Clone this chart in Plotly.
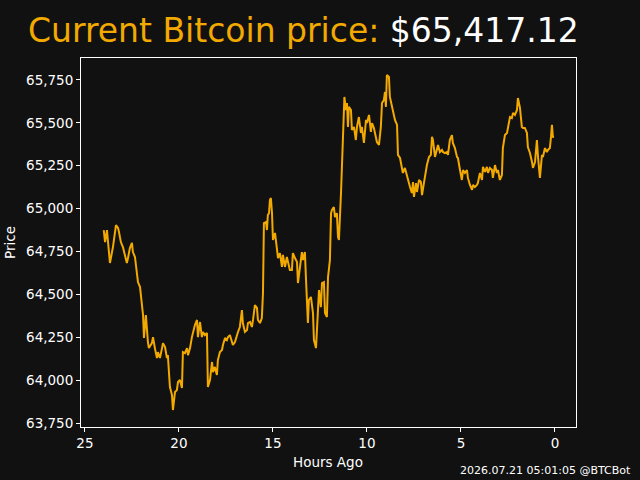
import plotly.graph_objects as go

hours_ago = [
    24.00, 23.93, 23.83, 23.78, 23.67, 23.56, 23.51, 23.35, 23.24, 23.19,
    23.09, 22.98, 22.87, 22.77, 22.71, 22.61, 22.50, 22.45, 22.34, 22.23,
    22.18, 22.07, 21.97, 21.91, 21.86, 21.76, 21.65, 21.60, 21.44, 21.38,
    21.28, 21.17, 21.12, 21.01, 20.90, 20.85, 20.74, 20.64, 20.59, 20.48,
    20.37, 20.32, 20.21, 20.11, 20.05, 19.95, 19.84, 19.79, 19.68, 19.57,
    19.52, 19.41, 19.31, 19.26, 19.15, 19.04, 18.99, 18.88, 18.78, 18.72,
    18.62, 18.51, 18.46, 18.35, 18.24, 18.19, 18.09, 17.98, 17.93, 17.82,
    17.71, 17.66, 17.55, 17.45, 17.39, 17.29, 17.18, 17.13, 17.02, 16.91,
    16.86, 16.76, 16.65, 16.60, 16.49, 16.38, 16.33, 16.22, 16.12, 16.06,
    15.96, 15.85, 15.80, 15.69, 15.59, 15.53, 15.51, 15.48, 15.37, 15.32,
    15.27, 15.21, 15.16, 15.11, 15.05, 15.00, 14.89, 14.79, 14.73, 14.63,
    14.52, 14.47, 14.36, 14.26, 14.20, 14.10, 13.99, 13.94, 13.83, 13.72,
    13.67, 13.56, 13.46, 13.40, 13.30, 13.24, 13.14, 13.09, 12.98, 12.87,
    12.82, 12.71, 12.61, 12.55, 12.45, 12.39, 12.29, 12.23, 12.13, 12.07,
    11.97, 11.91, 11.86, 11.76, 11.70, 11.60, 11.54, 11.49, 11.38, 11.33,
    11.28, 11.22, 11.20, 11.12, 11.06, 11.01, 10.96, 10.85, 10.80, 10.69,
    10.59, 10.53, 10.43, 10.32, 10.27, 10.16, 10.05, 10.00, 9.89, 9.79,
    9.73, 9.63, 9.52, 9.47, 9.36, 9.26, 9.20, 9.10, 9.04, 8.99,
    8.94, 8.83, 8.78, 8.67, 8.62, 8.51, 8.40, 8.35, 8.24, 8.14,
    8.09, 7.98, 7.87, 7.82, 7.71, 7.61, 7.55, 7.50, 7.39, 7.34,
    7.23, 7.13, 7.07, 6.97, 6.86, 6.81, 6.70, 6.60, 6.54, 6.49,
    6.38, 6.28, 6.22, 6.12, 6.01, 5.96, 5.85, 5.74, 5.69, 5.59,
    5.48, 5.43, 5.32, 5.21, 5.16, 5.05, 4.95, 4.89, 4.79, 4.68,
    4.63, 4.52, 4.41, 4.36, 4.26, 4.15, 4.10, 3.99, 3.88, 3.83,
    3.72, 3.62, 3.56, 3.46, 3.35, 3.30, 3.19, 3.09, 3.03, 2.93,
    2.82, 2.77, 2.66, 2.55, 2.50, 2.39, 2.29, 2.23, 2.13, 2.02,
    1.97, 1.86, 1.76, 1.70, 1.60, 1.49, 1.44, 1.33, 1.22, 1.17,
    1.06, 0.96, 0.90, 0.80, 0.69, 0.64, 0.53, 0.43, 0.37, 0.27,
    0.21, 0.16, 0.11, 0.05,
]

price_usd = [
    64875, 64805, 64875, 64817, 64683, 64747, 64776, 64904, 64887, 64864,
    64805, 64776, 64730, 64683, 64712, 64770, 64800, 64747, 64718, 64630,
    64572, 64543, 64456, 64380, 64246, 64380, 64222, 64187, 64216, 64251,
    64187, 64129, 64164, 64129, 64187, 64216, 64193, 64129, 64146, 63960,
    63913, 63826, 63931, 63942, 63989, 64001, 63954, 64164, 64158, 64187,
    64146, 64187, 64251, 64275, 64321, 64351, 64251, 64339, 64251, 64281,
    64263, 64275, 63960, 64001, 64106, 64047, 64077, 64030, 64117, 64164,
    64176, 64205, 64246, 64234, 64251, 64263, 64222, 64205, 64222, 64275,
    64281, 64310, 64409, 64333, 64281, 64292, 64333, 64339, 64310, 64351,
    64438, 64421, 64351, 64333, 64362, 64508, 64776, 64916, 64922, 64875,
    64963, 64974, 65050, 65062, 64974, 64817, 64858, 64741, 64712, 64741,
    64660, 64730, 64660, 64718, 64689, 64642, 64642, 64741, 64712, 64689,
    64566, 64660, 64747, 64700, 64747, 64584, 64333, 64467, 64485, 64391,
    64234, 64187, 64467, 64525, 64426, 64566, 64572, 64391, 64368, 64601,
    64700, 64974, 64992, 65009, 64951, 64974, 64835, 64817, 65091, 65284,
    65383, 65558, 65651, 65575, 65616, 65476, 65593, 65575, 65458, 65476,
    65400, 65476, 65534, 65441, 65476, 65383, 65517, 65499, 65546, 65447,
    65499, 65470, 65418, 65388, 65371, 65476, 65616, 65633, 65680, 65593,
    65779, 65767, 65651, 65593, 65587, 65517, 65488, 65313, 65295, 65225,
    65208, 65237, 65184, 65167, 65126, 65091, 65155, 65068, 65149, 65097,
    65167, 65155, 65079, 65149, 65225, 65254, 65301, 65313, 65418, 65400,
    65301, 65342, 65371, 65330, 65342, 65330, 65324, 65330, 65313, 65400,
    65429, 65383, 65353, 65301, 65295, 65225, 65167, 65225, 65208, 65225,
    65179, 65138, 65109, 65138, 65126, 65138, 65149, 65208, 65167, 65243,
    65214, 65243, 65208, 65237, 65225, 65179, 65254, 65208, 65225, 65167,
    65196, 65353, 65429, 65441, 65476, 65534, 65528, 65558, 65546, 65575,
    65645, 65587, 65476, 65470, 65470, 65441, 65359, 65324, 65272, 65237,
    65272, 65400, 65301, 65179, 65313, 65301, 65353, 65330, 65342, 65353,
    65418, 65488, 65418, 65417.12,
]

x_ticks = [0, 5, 10, 15, 20, 25]
y_ticks = [63750, 64000, 64250, 64500, 64750, 65000, 65250, 65500, 65750]

title_label = "Current Bitcoin price: "
current_price = "$65,417.12"
footer_text = "2026.07.21 05:01:05 @BTCBot"

BG = "#111111"
ORANGE = "#F2A900"
FONT = "DejaVu Sans"

fig = go.Figure()
fig.add_trace(go.Scatter(
    x=hours_ago, y=price_usd, mode="lines",
    line=dict(color=ORANGE, width=2),
    showlegend=False, hoverinfo="skip",
))

L, R, T, B = 81, 576, 58, 427
W, H = 640, 480
pw, ph = R - L, B - T

def px(x):
    return (x - L) / pw

def py(y):
    return (B - y) / ph

axis_common = dict(
    showgrid=False, zeroline=False, showline=True, linecolor="white",
    linewidth=1, mirror=True, ticks="outside", ticklen=4, tickwidth=1,
    tickcolor="white", tickfont=dict(color="white", size=13.5, family=FONT),
)

fig.update_layout(
    width=W, height=H,
    margin=dict(l=L, r=W - R, t=T, b=H - B),
    paper_bgcolor=BG, plot_bgcolor=BG,
    font=dict(family=FONT, color="white"),
    xaxis=dict(range=[25.21, -1.12], tickvals=x_ticks,
               ticktext=[str(v) for v in x_ticks], **axis_common),
    yaxis=dict(range=[63727, 65878], tickvals=y_ticks,
               tickformat=",d", **axis_common),
    annotations=[
        dict(text=f"<span style='color:{ORANGE}'>{title_label}</span>{current_price}",
             x=px(26), y=py(30), xref="paper", yref="paper",
             xanchor="left", yanchor="middle", showarrow=False,
             font=dict(size=33, color="white", family=FONT)),
        dict(text="Price", x=px(10), y=py(243), xref="paper", yref="paper",
             xanchor="center", yanchor="middle", textangle=-90, showarrow=False,
             font=dict(size=13.5, color="white", family=FONT)),
        dict(text="Hours Ago", x=px(328), y=py(462), xref="paper", yref="paper",
             xanchor="center", yanchor="middle", showarrow=False,
             font=dict(size=13.5, color="white", family=FONT)),
        dict(text=footer_text, x=px(633), y=py(470), xref="paper", yref="paper",
             xanchor="right", yanchor="middle", showarrow=False,
             font=dict(size=11, color="white", family=FONT)),
    ],
)

fig.write_html("out.html")
